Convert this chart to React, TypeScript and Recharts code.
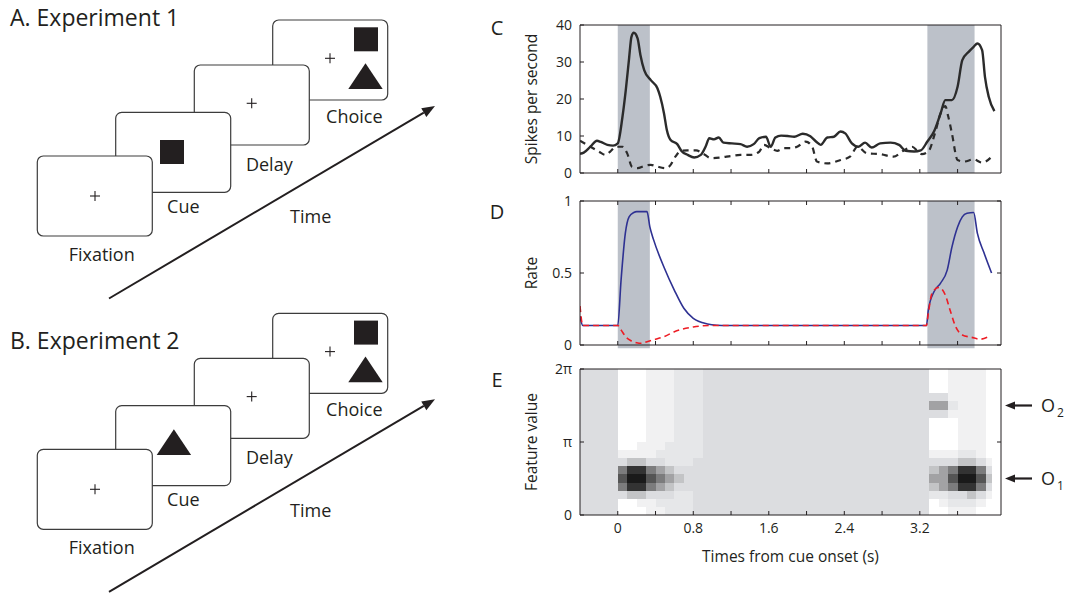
import React from 'react';
import { LineChart, Line, XAxis, YAxis, ReferenceArea } from 'recharts';

// shared time axis (s from cue onset)
const timeDomain = [-0.4, 4.06];
const timeTicks = [0, 0.4, 0.8, 1.2, 1.6, 2.0, 2.4, 2.8, 3.2, 3.6];
const timeTickLabels = ['0', '', '0.8', '', '1.6', '', '2.4', '', '3.2', ''];
const cueWindow = [0, 0.34];
const choiceWindow = [3.28, 3.78];

const spikeTicks = [0, 10, 20, 30, 40];
const spikeTickLabels = ['0', '10', '20', '30', '40'];
const rateTicks = [0, 0.5, 1];
const rateTickLabels = ['0', '0.5', '1'];
const featureTicks = [0, Math.PI, 2 * Math.PI];
const featureTickLabels = ['0', 'π', '2π'];
const objectValues = [Math.PI / 2, (3 * Math.PI) / 2];
const objectLabels = ['1', '2'];

// C: recorded firing rate (spikes/s)
const spikeSolid: [number, number][] = [
  [-0.4, 5.2], [-0.36, 5.5], [-0.29, 7.1], [-0.22, 8.7], [-0.18, 8.4], [-0.11, 7.6], [-0.05, 7.4],
  [0.0, 8.0], [0.05, 15.2], [0.085, 22.4], [0.12, 31], [0.145, 36.8], [0.17, 37.9], [0.21, 36.4],
  [0.24, 31.9], [0.28, 27.8], [0.35, 25.1], [0.42, 22.9], [0.45, 20.6], [0.49, 16.1], [0.52, 11.6],
  [0.56, 8.9], [0.63, 7.8], [0.68, 5.8], [0.74, 4.9], [0.81, 4.2], [0.88, 4.9], [0.93, 7.1],
  [0.97, 9.4], [1.02, 9.1], [1.07, 9.6], [1.12, 8.2], [1.21, 8.0], [1.3, 7.8], [1.37, 7.1],
  [1.44, 7.8], [1.5, 9.4], [1.57, 9.8], [1.62, 7.1], [1.67, 9.6], [1.73, 10.1], [1.8, 10.0],
  [1.87, 9.8], [1.96, 10.6], [2.04, 9.9], [2.1, 8.5], [2.15, 7.6], [2.22, 9.6], [2.29, 9.8],
  [2.36, 11.2], [2.41, 10.7], [2.48, 8.0], [2.55, 7.1], [2.62, 8.2], [2.69, 6.9], [2.78, 8.0],
  [2.89, 8.2], [2.98, 7.6], [3.05, 6.0], [3.14, 5.8], [3.21, 6.1], [3.28, 8.5], [3.35, 11.2],
  [3.42, 16.1], [3.47, 19.7], [3.54, 19.7], [3.6, 23.3], [3.65, 30.5], [3.72, 32.8], [3.77, 34.1],
  [3.81, 35], [3.86, 33.2], [3.89, 26], [3.93, 20.6], [3.99, 16.7],
];
const spikeDashed: [number, number][] = [
  [-0.4, 8.7], [-0.29, 7.1], [-0.2, 5.8], [-0.13, 4.9], [-0.08, 5.8], [-0.02, 7.1], [0.05, 7.1],
  [0.1, 5.3], [0.15, 1.7], [0.21, 1.3], [0.28, 1.9], [0.35, 2.2], [0.42, 1.7], [0.51, 1.3],
  [0.56, 2.2], [0.61, 4.4], [0.67, 6.0], [0.74, 6.1], [0.83, 6.1], [0.9, 5.3], [0.99, 4.0],
  [1.09, 4.2], [1.2, 4.6], [1.3, 4.9], [1.41, 4.9], [1.5, 5.8], [1.55, 7.6], [1.62, 6.7],
  [1.69, 6.0], [1.76, 6.7], [1.83, 6.7], [1.9, 7.1], [1.99, 8.5], [2.06, 7.1], [2.11, 3.1],
  [2.22, 2.6], [2.36, 3.5], [2.46, 4.4], [2.54, 7.1], [2.64, 5.3], [2.78, 5.1], [2.92, 4.4],
  [3.03, 6.1], [3.12, 7.1], [3.17, 6.1], [3.22, 5.1], [3.29, 5.8], [3.36, 10.7], [3.42, 16.1],
  [3.47, 18.1], [3.5, 15.4], [3.54, 10.7], [3.6, 3.5], [3.67, 3.1], [3.77, 3.7], [3.86, 2.8],
  [3.98, 4.9],
];

// D: model rate
const rateBlue: [number, number][] = [
  [-0.4, 0.2], [-0.37, 0.135], [0.0, 0.135], [0.035, 0.45], [0.08, 0.775], [0.12, 0.89],
  [0.17, 0.92], [0.2, 0.926], [0.31, 0.926], [0.34, 0.82], [0.38, 0.73], [0.49, 0.54],
  [0.6, 0.38], [0.7, 0.255], [0.8, 0.185], [0.95, 0.146], [1.05, 0.137], [1.15, 0.135],
  [3.27, 0.135], [3.29, 0.243], [3.35, 0.37], [3.42, 0.43], [3.49, 0.52], [3.54, 0.68],
  [3.6, 0.82], [3.65, 0.89], [3.7, 0.915], [3.77, 0.92], [3.81, 0.775], [3.88, 0.64], [3.96, 0.5],
];
const rateRed: [number, number][] = [
  [-0.4, 0.27], [-0.37, 0.135], [0.0, 0.135], [0.04, 0.1], [0.08, 0.06], [0.14, 0.03],
  [0.2, 0.016], [0.25, 0.012], [0.31, 0.023], [0.4, 0.04], [0.49, 0.058], [0.6, 0.092],
  [0.8, 0.125], [0.97, 0.135], [3.27, 0.135], [3.29, 0.22], [3.33, 0.36], [3.4, 0.4],
  [3.47, 0.347], [3.52, 0.243], [3.58, 0.127], [3.65, 0.07], [3.75, 0.053], [3.84, 0.04],
  [3.94, 0.062],
];

// E: population activity over feature value, rows top (2pi) to bottom (0), 0.1 s columns from -0.4
const heatStart = -0.4;
const heatStep = 0.1;
const heatEnd = 3.96;
const heatRows = [
  '3333' + '0001112223' + '33333333333333333333333' + '0011110',
  '3333' + '0001112223' + '33333333333333333333333' + '0011110',
  '3333' + '0001112223' + '33333333333333333333333' + '0011110',
  '3333' + '0001112223' + '33333333333333333333333' + '3311110',
  '3333' + '0001112223' + '33333333333333333333333' + '5521110',
  '3333' + '0001112223' + '33333333333333333333333' + '3311110',
  '3333' + '0001112223' + '33333333333333333333333' + '0001110',
  '3333' + '0001112223' + '33333333333333333333333' + '0001110',
  '3333' + '0001112223' + '33333333333333333333333' + '0001110',
  '3333' + '0011122223' + '33333333333333333333333' + '0001110',
  '3333' + '1111222223' + '33333333333333333333333' + '1112210',
  '3333' + '3443322233' + '33333333333333333333333' + '3334431',
  '3333' + '6886543333' + '33333333333333333333333' + '4568863',
  '3333' + '7997654333' + '33333333333333333333333' + '5579974',
  '3333' + '6886543333' + '33333333333333333333333' + '4568863',
  '3333' + '3443332233' + '33333333333333333333333' + '2233431',
  '3333' + '0011222233' + '33333333333333333333333' + '0122210',
  '3333' + '0001122233' + '33333333333333333333333' + '0011100',
];
const heatShades = ['#ffffff', '#f1f1f2', '#e6e7e9', '#dcdde0', '#c3c4c6', '#a2a2a4', '#7c7c7d', '#555555', '#333333', '#1a1a1a'];

const ink = '#231f20';
const shade = '#bcc1c9';
const font = '"Open Sans", sans-serif';

const toRows = (pairs: [number, number][]) => pairs.map(([t, v]) => ({ t, v }));

const nRows = heatRows.length;
const heatCells = heatRows.flatMap((row, r) =>
  row.split('').map((ch, c) => {
    const x1 = heatStart + c * heatStep;
    return {
      x1,
      x2: Math.min(x1 + heatStep, heatEnd),
      y1: (2 * Math.PI * (nRows - 1 - r)) / nRows,
      y2: (2 * Math.PI * (nRows - r)) / nRows,
      fill: heatShades[Number(ch)],
    };
  })
);

const leftTick = (values: number[], labels: string[]) => (p: any) => {
  const i = values.indexOf(p.payload.value);
  return (
    <g>
      <line x1={p.x} x2={p.x + 4} y1={p.y} y2={p.y} stroke={ink} />
      <text x={p.x - 8} y={p.y} dy="0.35em" textAnchor="end" fontSize={14} fill={ink} fontFamily={font}>
        {labels[i]}
      </text>
    </g>
  );
};

const bottomTick = (labels?: string[]) => (p: any) => {
  const i = timeTicks.indexOf(p.payload.value);
  return (
    <g>
      <line x1={p.x} x2={p.x} y1={p.y} y2={p.y - 4} stroke={ink} />
      {labels && labels[i] ? (
        <text x={p.x} y={p.y + 18} textAnchor="middle" fontSize={14} fill={ink} fontFamily={font}>
          {labels[i]}
        </text>
      ) : null}
    </g>
  );
};

const topTick = (p: any) => <line x1={p.x} x2={p.x} y1={p.y} y2={p.y + 4} stroke={ink} />;
const rightTick = (p: any) => <line x1={p.x} x2={p.x - 4} y1={p.y} y2={p.y} stroke={ink} />;

const objectTick = (p: any) => {
  const i = objectValues.indexOf(p.payload.value);
  if (i < 0) return rightTick(p);
  const x = p.x;
  const y = p.y;
  return (
    <g>
      <line x1={x + 12} x2={x + 31} y1={y} y2={y} stroke={ink} strokeWidth={2.2} />
      <polygon points={`${x + 4},${y} ${x + 14},${y - 4} ${x + 14},${y + 4}`} fill={ink} />
      <text x={x + 40} y={y + 6} fontSize={18} fill={ink} fontFamily={font}>
        O
        <tspan fontSize={12} dy={5} dx={2}>{objectLabels[i]}</tspan>
      </text>
    </g>
  );
};

const titleStyle = { fill: ink, fontSize: 15.5, fontFamily: font };

const yTitle = (value: string) => ({
  value,
  angle: -90,
  position: 'left' as const,
  offset: 48,
  style: { ...titleStyle, textAnchor: 'middle' },
});

// axes take 1px each, so margins are one less than the plot edges
const chartMargin = (top: number, bottom: number) => ({ top, bottom, left: 99, right: 64 });

const SpikeChart = () => (
  <LineChart width={586} height={185} margin={chartMargin(24, 11)}>
    <ReferenceArea x1={cueWindow[0]} x2={cueWindow[1]} fill={shade} fillOpacity={1} stroke="none" />
    <ReferenceArea x1={choiceWindow[0]} x2={choiceWindow[1]} fill={shade} fillOpacity={1} stroke="none" />
    <XAxis dataKey="t" type="number" domain={timeDomain} allowDataOverflow ticks={timeTicks} interval={0}
      height={1} tickSize={0} tickMargin={0} tickLine={false} tick={bottomTick()} axisLine={{ stroke: ink }} />
    <XAxis xAxisId="top" orientation="top" dataKey="t" type="number" domain={timeDomain} allowDataOverflow
      height={1} tick={false} tickLine={false} axisLine={{ stroke: ink }} />
    <YAxis type="number" domain={[0, 40]} allowDataOverflow ticks={spikeTicks} interval={0} width={1} tickSize={0}
      tickMargin={0} tickLine={false} tick={leftTick(spikeTicks, spikeTickLabels)} axisLine={{ stroke: ink }}
      label={yTitle('Spikes per second')} />
    <YAxis yAxisId="right" orientation="right" type="number" domain={[0, 40]} allowDataOverflow width={1}
      tick={false} tickLine={false} axisLine={{ stroke: ink }} />
    <Line data={toRows(spikeSolid)} dataKey="v" type="monotone" stroke="#2b2b2b" strokeWidth={2.4}
      dot={false} isAnimationActive={false} />
    <Line data={toRows(spikeDashed)} dataKey="v" type="monotone" stroke="#2b2b2b" strokeWidth={2.2}
      strokeDasharray="6 5" dot={false} isAnimationActive={false} />
  </LineChart>
);

const RateChart = () => (
  <LineChart width={586} height={175} margin={chartMargin(15, 14)}>
    <ReferenceArea x1={cueWindow[0]} x2={cueWindow[1]} y1={-0.022} y2={1} ifOverflow="visible"
      fill={shade} fillOpacity={1} stroke="none" />
    <ReferenceArea x1={choiceWindow[0]} x2={choiceWindow[1]} y1={-0.022} y2={1} ifOverflow="visible"
      fill={shade} fillOpacity={1} stroke="none" />
    <XAxis dataKey="t" type="number" domain={timeDomain} allowDataOverflow ticks={timeTicks} interval={0}
      height={1} tickSize={0} tickMargin={0} tickLine={false} tick={bottomTick()} axisLine={{ stroke: ink }} />
    <XAxis xAxisId="top" orientation="top" dataKey="t" type="number" domain={timeDomain} allowDataOverflow
      ticks={timeTicks} interval={0} height={1} tickSize={0} tickMargin={0} tickLine={false} tick={topTick}
      axisLine={{ stroke: ink }} />
    <YAxis type="number" domain={[0, 1]} allowDataOverflow ticks={rateTicks} interval={0} width={1} tickSize={0}
      tickMargin={0} tickLine={false} tick={leftTick(rateTicks, rateTickLabels)} axisLine={{ stroke: ink }}
      label={yTitle('Rate')} />
    <YAxis yAxisId="right" orientation="right" type="number" domain={[0, 1]} allowDataOverflow ticks={rateTicks}
      interval={0} width={1} tickSize={0} tickMargin={0} tickLine={false} tick={rightTick}
      axisLine={{ stroke: ink }} />
    <Line data={toRows(rateBlue)} dataKey="v" type="monotone" stroke="#2e3192" strokeWidth={1.6}
      dot={false} isAnimationActive={false} />
    <Line data={toRows(rateRed)} dataKey="v" type="monotone" stroke="#ed1c24" strokeWidth={1.6}
      strokeDasharray="6 4" dot={false} isAnimationActive={false} />
  </LineChart>
);

const FeatureChart = () => (
  <LineChart width={586} height={234} margin={chartMargin(8, 78)} data={timeTicks.map((t) => ({ t }))}>
    {heatCells.map((c, i) => (
      <ReferenceArea key={i} x1={c.x1} x2={c.x2} y1={c.y1} y2={c.y2} fill={c.fill} fillOpacity={1}
        stroke="none" shapeRendering="crispEdges" />
    ))}
    <XAxis dataKey="t" type="number" domain={timeDomain} allowDataOverflow ticks={timeTicks} interval={0}
      height={1} tickSize={0} tickMargin={0} tickLine={false} tick={bottomTick(timeTickLabels)}
      axisLine={{ stroke: ink }}
      label={{ value: 'Times from cue onset (s)', position: 'bottom', offset: 35, style: titleStyle }} />
    <XAxis xAxisId="top" orientation="top" dataKey="t" type="number" domain={timeDomain} allowDataOverflow
      height={1} tick={false} tickLine={false} axisLine={{ stroke: ink }} />
    <YAxis type="number" domain={[0, 2 * Math.PI]} allowDataOverflow ticks={featureTicks} interval={0} width={1}
      tickSize={0} tickMargin={0} tickLine={false} tick={leftTick(featureTicks, featureTickLabels)}
      axisLine={{ stroke: ink }} label={yTitle('Feature value')} />
    <YAxis yAxisId="right" orientation="right" type="number" domain={[0, 2 * Math.PI]} allowDataOverflow
      ticks={[objectValues[0], Math.PI, objectValues[1]]} interval={0} width={1} tickSize={0} tickMargin={0}
      tickLine={false} tick={objectTick} axisLine={{ stroke: ink }} />
  </LineChart>
);

// left-hand task schematics
const Plus = ({ x, y }: { x: number; y: number }) => (
  <g stroke={ink} strokeWidth={1.1}>
    <line x1={x - 5} x2={x + 5} y1={y} y2={y} />
    <line x1={x} x2={x} y1={y - 5} y2={y + 5} />
  </g>
);

const Screen = ({ x, y, children }: { x: number; y: number; children?: React.ReactNode }) => (
  <g transform={`translate(${x},${y})`}>
    <rect x={0} y={0} width={115} height={80} rx={6} fill="#fff" stroke="#3c3c3c" strokeWidth={1.2} />
    {children}
  </g>
);

const Square = ({ x, y }: { x: number; y: number }) => <rect x={x} y={y} width={24} height={24} fill={ink} />;
const Triangle = ({ x, y }: { x: number; y: number }) => (
  <polygon points={`${x},${y} ${x + 17.2},${y - 25.7} ${x + 34.4},${y}`} fill={ink} />
);

const Arrow = ({ x1, y1, x2, y2 }: { x1: number; y1: number; x2: number; y2: number }) => {
  const len = Math.hypot(x2 - x1, y2 - y1);
  const ux = (x2 - x1) / len;
  const uy = (y2 - y1) / len;
  const bx = x2 - ux * 13;
  const by = y2 - uy * 13;
  return (
    <g>
      <line x1={x1} y1={y1} x2={bx} y2={by} stroke={ink} strokeWidth={2} />
      <polygon points={`${x2},${y2} ${bx - uy * 5},${by + ux * 5} ${bx + uy * 5},${by - ux * 5}`} fill={ink} />
    </g>
  );
};

const labelStyle = { fontSize: 18, fill: ink, fontFamily: font, textAnchor: 'middle' as const };

const Experiment = ({ dy, title, titleY, cueShape }: { dy: number; title: string; titleY: number; cueShape: 'square' | 'triangle' }) => (
  <g>
    <text x={10} y={titleY} fontSize={23} fill={ink} fontFamily={font}>{title}</text>
    <g transform={`translate(0,${dy})`}>
      <Screen x={272.7} y={20}>
        <Plus x={57.3} y={38.3} />
        <Square x={81.3} y={7.3} />
        <Triangle x={75.6} y={69} />
      </Screen>
      <Screen x={194.3} y={65}>
        <Plus x={57.4} y={38.3} />
      </Screen>
      <Screen x={115.7} y={112.3}>
        {cueShape === 'square' ? <Square x={44.3} y={27.7} /> : <Triangle x={41} y={49.3} />}
      </Screen>
      <Screen x={37.3} y={156}>
        <Plus x={57.7} y={40} />
      </Screen>
      <text x={101.7} y={261} {...labelStyle}>Fixation</text>
      <text x={183.3} y={213} {...labelStyle}>Cue</text>
      <text x={269.3} y={171} {...labelStyle}>Delay</text>
      <text x={354.3} y={122.7} {...labelStyle}>Choice</text>
      <text x={310.7} y={223.3} {...labelStyle}>Time</text>
      <Arrow x1={109} y1={298.5} x2={435} y2={106} />
    </g>
  </g>
);

export default function App() {
  return (
    <div style={{ position: 'absolute', left: 0, top: 0, width: 1066, height: 594, background: '#fff', fontFamily: font }}>
      <svg width={1066} height={594} style={{ position: 'absolute', left: 0, top: 0 }}>
        <Experiment dy={0} title="A. Experiment 1" titleY={26} cueShape="square" />
        <Experiment dy={293.3} title="B. Experiment 2" titleY={349} cueShape="triangle" />
        <text x={497} y={35} fontSize={20} fill={ink} fontFamily={font} textAnchor="middle">C</text>
        <text x={497} y={219} fontSize={20} fill={ink} fontFamily={font} textAnchor="middle">D</text>
        <text x={497} y={387} fontSize={20} fill={ink} fontFamily={font} textAnchor="middle">E</text>
      </svg>
      <div style={{ position: 'absolute', left: 480, top: 0 }}>
        <SpikeChart />
      </div>
      <div style={{ position: 'absolute', left: 480, top: 185 }}>
        <RateChart />
      </div>
      <div style={{ position: 'absolute', left: 480, top: 360 }}>
        <FeatureChart />
      </div>
    </div>
  );
}
